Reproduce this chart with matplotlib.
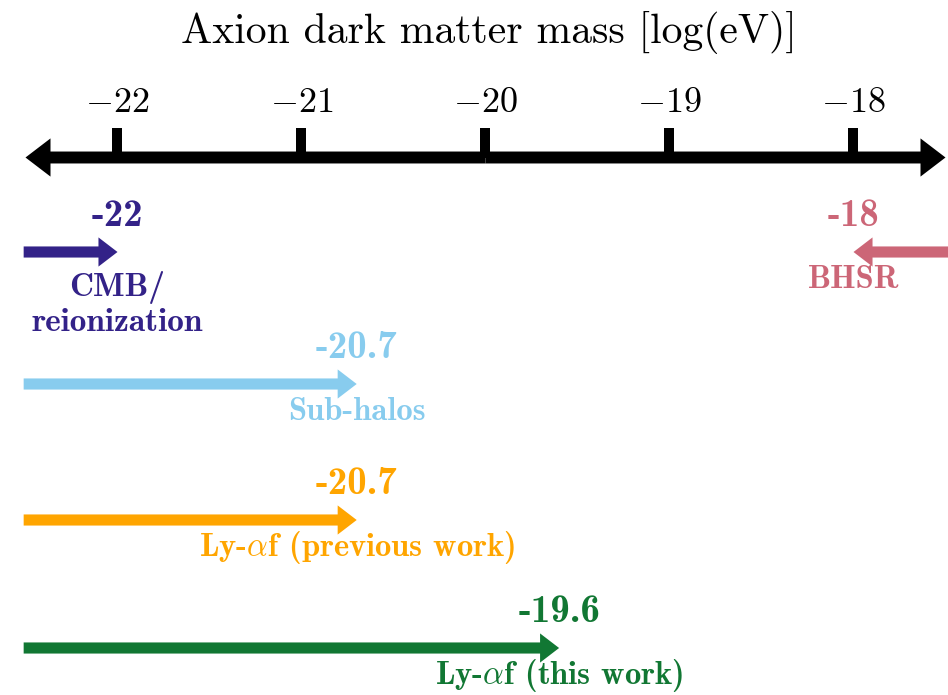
import matplotlib
matplotlib.use("Agg")
import matplotlib.pyplot as plt

plt.rcParams['mathtext.fontset'] = 'cm'

# ---- data ----
axis_range = [-22.5, -17.5]
tick_values = [-22, -21, -20, -19, -18]
tick_labels = [r'$-22$', r'$-21$', r'$-20$', r'$-19$', r'$-18$']

constraint_names = ['CMB/\nreionization', 'BHSR', 'Sub-halos',
                    r'Ly-$\alpha$f (previous work)', r'Ly-$\alpha$f (this work)']
constraint_bounds = [-22.0, -18.0, -20.7, -20.7, -19.6]
bound_labels = ['-22', '-18', '-20.7', '-20.7', '-19.6']
constraint_side = ['lower', 'upper', 'lower', 'lower', 'lower']
constraint_colors = ['#332288', '#CC6677', '#88CCEE', '#FFA500', '#117733']
row_y = [252, 252, 384, 520, 648]   # vertical layout (pixels from top)

title = 'Axion dark matter mass [log(eV)]'

# ---- figure ----
W, H, DPI = 948, 695, 100
fig = plt.figure(figsize=(W / DPI, H / DPI), dpi=DPI)
ax = fig.add_axes([0, 0, 1, 1])
px = 184.0  # pixels per unit
x_left = tick_values[0] - 117.5 / px
x_right = x_left + W / px
ax.set_xlim(x_left, x_right)
ax.set_ylim(H, 0)
ax.axis('off')

def arrow(x0, x1, y, color, hl, hw, tw):
    ax.annotate('', xy=(x1, y), xytext=(x0, y),
                arrowprops=dict(arrowstyle=f'simple,head_length={hl},head_width={hw},tail_width={tw}',
                                mutation_scale=1, color=color, lw=0,
                                shrinkA=0, shrinkB=0))

# main axis
axis_y = 157.5
mid = sum(axis_range) / 2
arrow(mid, axis_range[0], axis_y, 'black', 18, 27.5, 8.6)
arrow(mid, axis_range[1], axis_y, 'black', 18, 27.5, 8.6)
ax.vlines(tick_values, 128, axis_y, color='black', lw=7.2)
for v, lab in zip(tick_values, tick_labels):
    ax.text(v, 102, lab, ha='center', va='center', fontsize=26, color='black')

title_x = x_left + 488.5 / px
ax.text(title_x, 32, title, ha='center', va='center',
        fontsize=30, family='cmr10', color='black')

# constraints
for name, b, bl, side, c, y in zip(constraint_names, constraint_bounds, bound_labels,
                                    constraint_side, constraint_colors, row_y):
    start = axis_range[0] - 0.01 if side == 'lower' else x_right
    arrow(start, b, y, c, 13.7, 21, 8)
    ax.text(b, y - 36, bl, ha='center', va='center', fontsize=28, family='cmb10', color=c)
    if '\n' in name:
        ax.text(b, y + 52, name, ha='center', va='center', fontsize=24, family='cmb10',
                color=c, linespacing=1.2)
    else:
        ax.text(b, y + 28, name, ha='center', va='center', fontsize=23.5, family='cmb10', color=c)

fig.savefig('out.png', dpi=DPI, facecolor='white')
